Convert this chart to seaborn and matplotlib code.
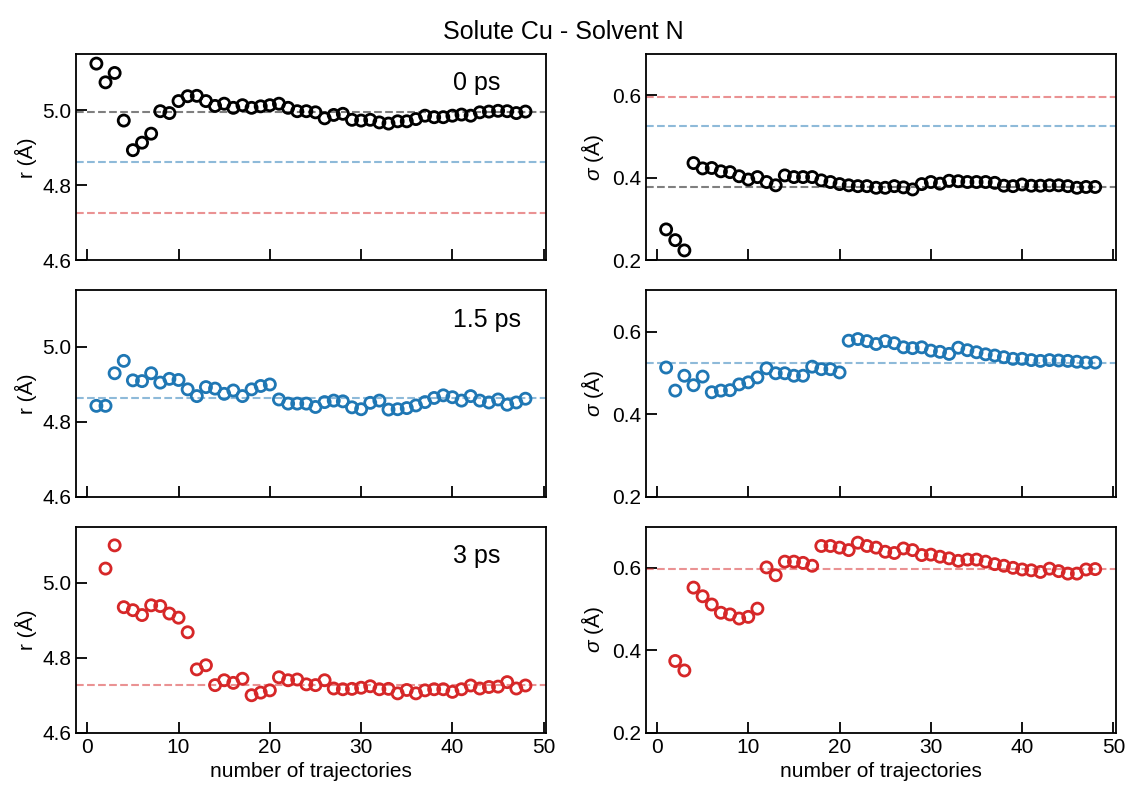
import numpy as np
import matplotlib
matplotlib.use("Agg")
import matplotlib.pyplot as plt
import seaborn as sns

# ---------------- data ----------------
n_traj = list(range(1, 49))

r_0ps = [5.125, 5.075, 5.100, 4.973, 4.894, 4.914, 4.938, 4.998, 4.993, 5.025,
         5.038, 5.039, 5.025, 5.012, 5.018, 5.007, 5.014, 5.007, 5.011, 5.014,
         5.018, 5.007, 4.998, 4.998, 4.995, 4.979, 4.988, 4.991, 4.975, 4.973,
         4.975, 4.968, 4.965, 4.971, 4.971, 4.977, 4.986, 4.982, 4.982, 4.986,
         4.989, 4.986, 4.995, 4.997, 4.999, 4.998, 4.993, 4.997]
s_0ps = [0.275, 0.249, 0.224, 0.436, 0.423, 0.424, 0.416, 0.414, 0.404, 0.396,
         0.402, 0.390, 0.382, 0.406, 0.402, 0.402, 0.402, 0.394, 0.390, 0.385,
         0.382, 0.380, 0.380, 0.376, 0.376, 0.380, 0.377, 0.372, 0.385, 0.390,
         0.386, 0.393, 0.392, 0.390, 0.390, 0.390, 0.388, 0.381, 0.380, 0.384,
         0.381, 0.381, 0.382, 0.382, 0.380, 0.376, 0.378, 0.378]

r_15ps = [4.842, 4.842, 4.929, 4.962, 4.910, 4.908, 4.929, 4.904, 4.914, 4.911,
          4.886, 4.868, 4.892, 4.888, 4.874, 4.883, 4.868, 4.886, 4.895, 4.899,
          4.859, 4.848, 4.848, 4.848, 4.839, 4.852, 4.856, 4.854, 4.838, 4.833,
          4.850, 4.856, 4.832, 4.833, 4.836, 4.843, 4.852, 4.863, 4.870, 4.865,
          4.856, 4.868, 4.856, 4.851, 4.859, 4.845, 4.851, 4.861]
s_15ps = [0.513, 0.457, 0.493, 0.470, 0.491, 0.453, 0.457, 0.458, 0.472, 0.477,
          0.489, 0.511, 0.499, 0.499, 0.493, 0.493, 0.515, 0.509, 0.509, 0.501,
          0.578, 0.582, 0.577, 0.570, 0.577, 0.572, 0.562, 0.560, 0.562, 0.554,
          0.551, 0.546, 0.561, 0.555, 0.550, 0.545, 0.542, 0.538, 0.534, 0.534,
          0.531, 0.529, 0.531, 0.530, 0.529, 0.527, 0.525, 0.525]

r_3ps = [np.nan, 5.038, 5.100, 4.935, 4.927, 4.914, 4.940, 4.938, 4.918, 4.907,
         4.868, 4.769, 4.780, 4.727, 4.740, 4.733, 4.744, 4.700, 4.707, 4.713,
         4.748, 4.740, 4.742, 4.729, 4.727, 4.740, 4.718, 4.716, 4.717, 4.720,
         4.724, 4.716, 4.717, 4.705, 4.714, 4.705, 4.713, 4.716, 4.716, 4.709,
         4.716, 4.726, 4.718, 4.722, 4.723, 4.735, 4.718, 4.726]
s_3ps = [np.nan, 0.374, 0.351, 0.552, 0.531, 0.511, 0.491, 0.487, 0.477, 0.481,
         0.501, 0.601, 0.582, 0.615, 0.615, 0.612, 0.605, 0.653, 0.653, 0.649,
         0.643, 0.661, 0.653, 0.649, 0.639, 0.636, 0.647, 0.643, 0.631, 0.632,
         0.627, 0.623, 0.617, 0.620, 0.620, 0.615, 0.609, 0.605, 0.600, 0.596,
         0.594, 0.590, 0.598, 0.592, 0.586, 0.586, 0.596, 0.597]

# converged reference values (dashed lines)
ref_r = [4.996, 4.862, 4.726]
ref_sigma = [0.378, 0.525, 0.596]

times = ["0 ps", "1.5 ps", "3 ps"]
colors = ["black", "#1f77b4", "#d62728"]

r_series = [r_0ps, r_15ps, r_3ps]
s_series = [s_0ps, s_15ps, s_3ps]

r_ticks = [4.6, 4.8, 5.0]
s_ticks = [0.2, 0.4, 0.6]
x_ticks = [0, 10, 20, 30, 40, 50]

# ---------------- style ----------------
sns.set_style("ticks")
plt.rcParams["font.family"] = ["Liberation Sans", "DejaVu Sans"]
plt.rcParams["mathtext.fontset"] = "custom"
plt.rcParams["mathtext.rm"] = "Liberation Sans"
plt.rcParams["mathtext.it"] = "Liberation Sans:italic"
for key in ["text.color", "axes.labelcolor", "xtick.color", "ytick.color",
            "axes.edgecolor"]:
    plt.rcParams[key] = "black"
plt.rcParams["axes.linewidth"] = 1.3
plt.rcParams["xtick.direction"] = "in"
plt.rcParams["ytick.direction"] = "in"

fig, axes = plt.subplots(3, 2, figsize=(11.27, 7.86), dpi=100)
fig.subplots_adjust(left=0.0677, right=0.99, bottom=0.0678, top=0.931,
                    wspace=0.213, hspace=0.146)

for row in range(3):
    for col in range(2):
        ax = axes[row, col]
        ys = r_series[row] if col == 0 else s_series[row]
        sns.scatterplot(x=n_traj, y=ys, ax=ax, marker="o", s=64,
                        facecolors="none", edgecolors=colors[row],
                        linewidth=2.0, zorder=3)
        refs = ref_r if col == 0 else ref_sigma
        lines_to_draw = [0, 1, 2] if row == 0 else [row]
        for k in lines_to_draw:
            ax.axhline(refs[k], color=colors[k], ls="--", lw=1.5, alpha=0.5,
                       zorder=1)
        ax.set_xlim(-1.2, 50.25)
        ax.set_xticks(x_ticks)
        if col == 0:
            ax.set_ylim(4.6, 5.15)
            ax.set_yticks(r_ticks)
            ax.set_yticklabels([f"{t:.1f}" for t in r_ticks])
            ax.set_ylabel("r (Å)", fontsize=15)
            ax.text(0.802, 0.858, times[row], transform=ax.transAxes,
                    fontsize=18, ha="left", va="center")
        else:
            ax.set_ylim(0.2, 0.7)
            ax.set_yticks(s_ticks)
            ax.set_yticklabels([f"{t:.1f}" for t in s_ticks])
            ax.set_ylabel(r"$\sigma$ (Å)", fontsize=15)
        ax.tick_params(axis="both", which="major", length=8, width=1.3,
                       labelsize=15, direction="in", top=False, right=False,
                       color="black", labelcolor="black")
        if row < 2:
            ax.set_xticklabels([])
        else:
            ax.set_xlabel("number of trajectories", fontsize=15)
        for sp in ax.spines.values():
            sp.set_visible(True)
            sp.set_linewidth(1.3)
            sp.set_color("black")

fig.suptitle("Solute Cu - Solvent N", fontsize=18, y=0.975, color="black")
fig.savefig("out.png", dpi=100)
